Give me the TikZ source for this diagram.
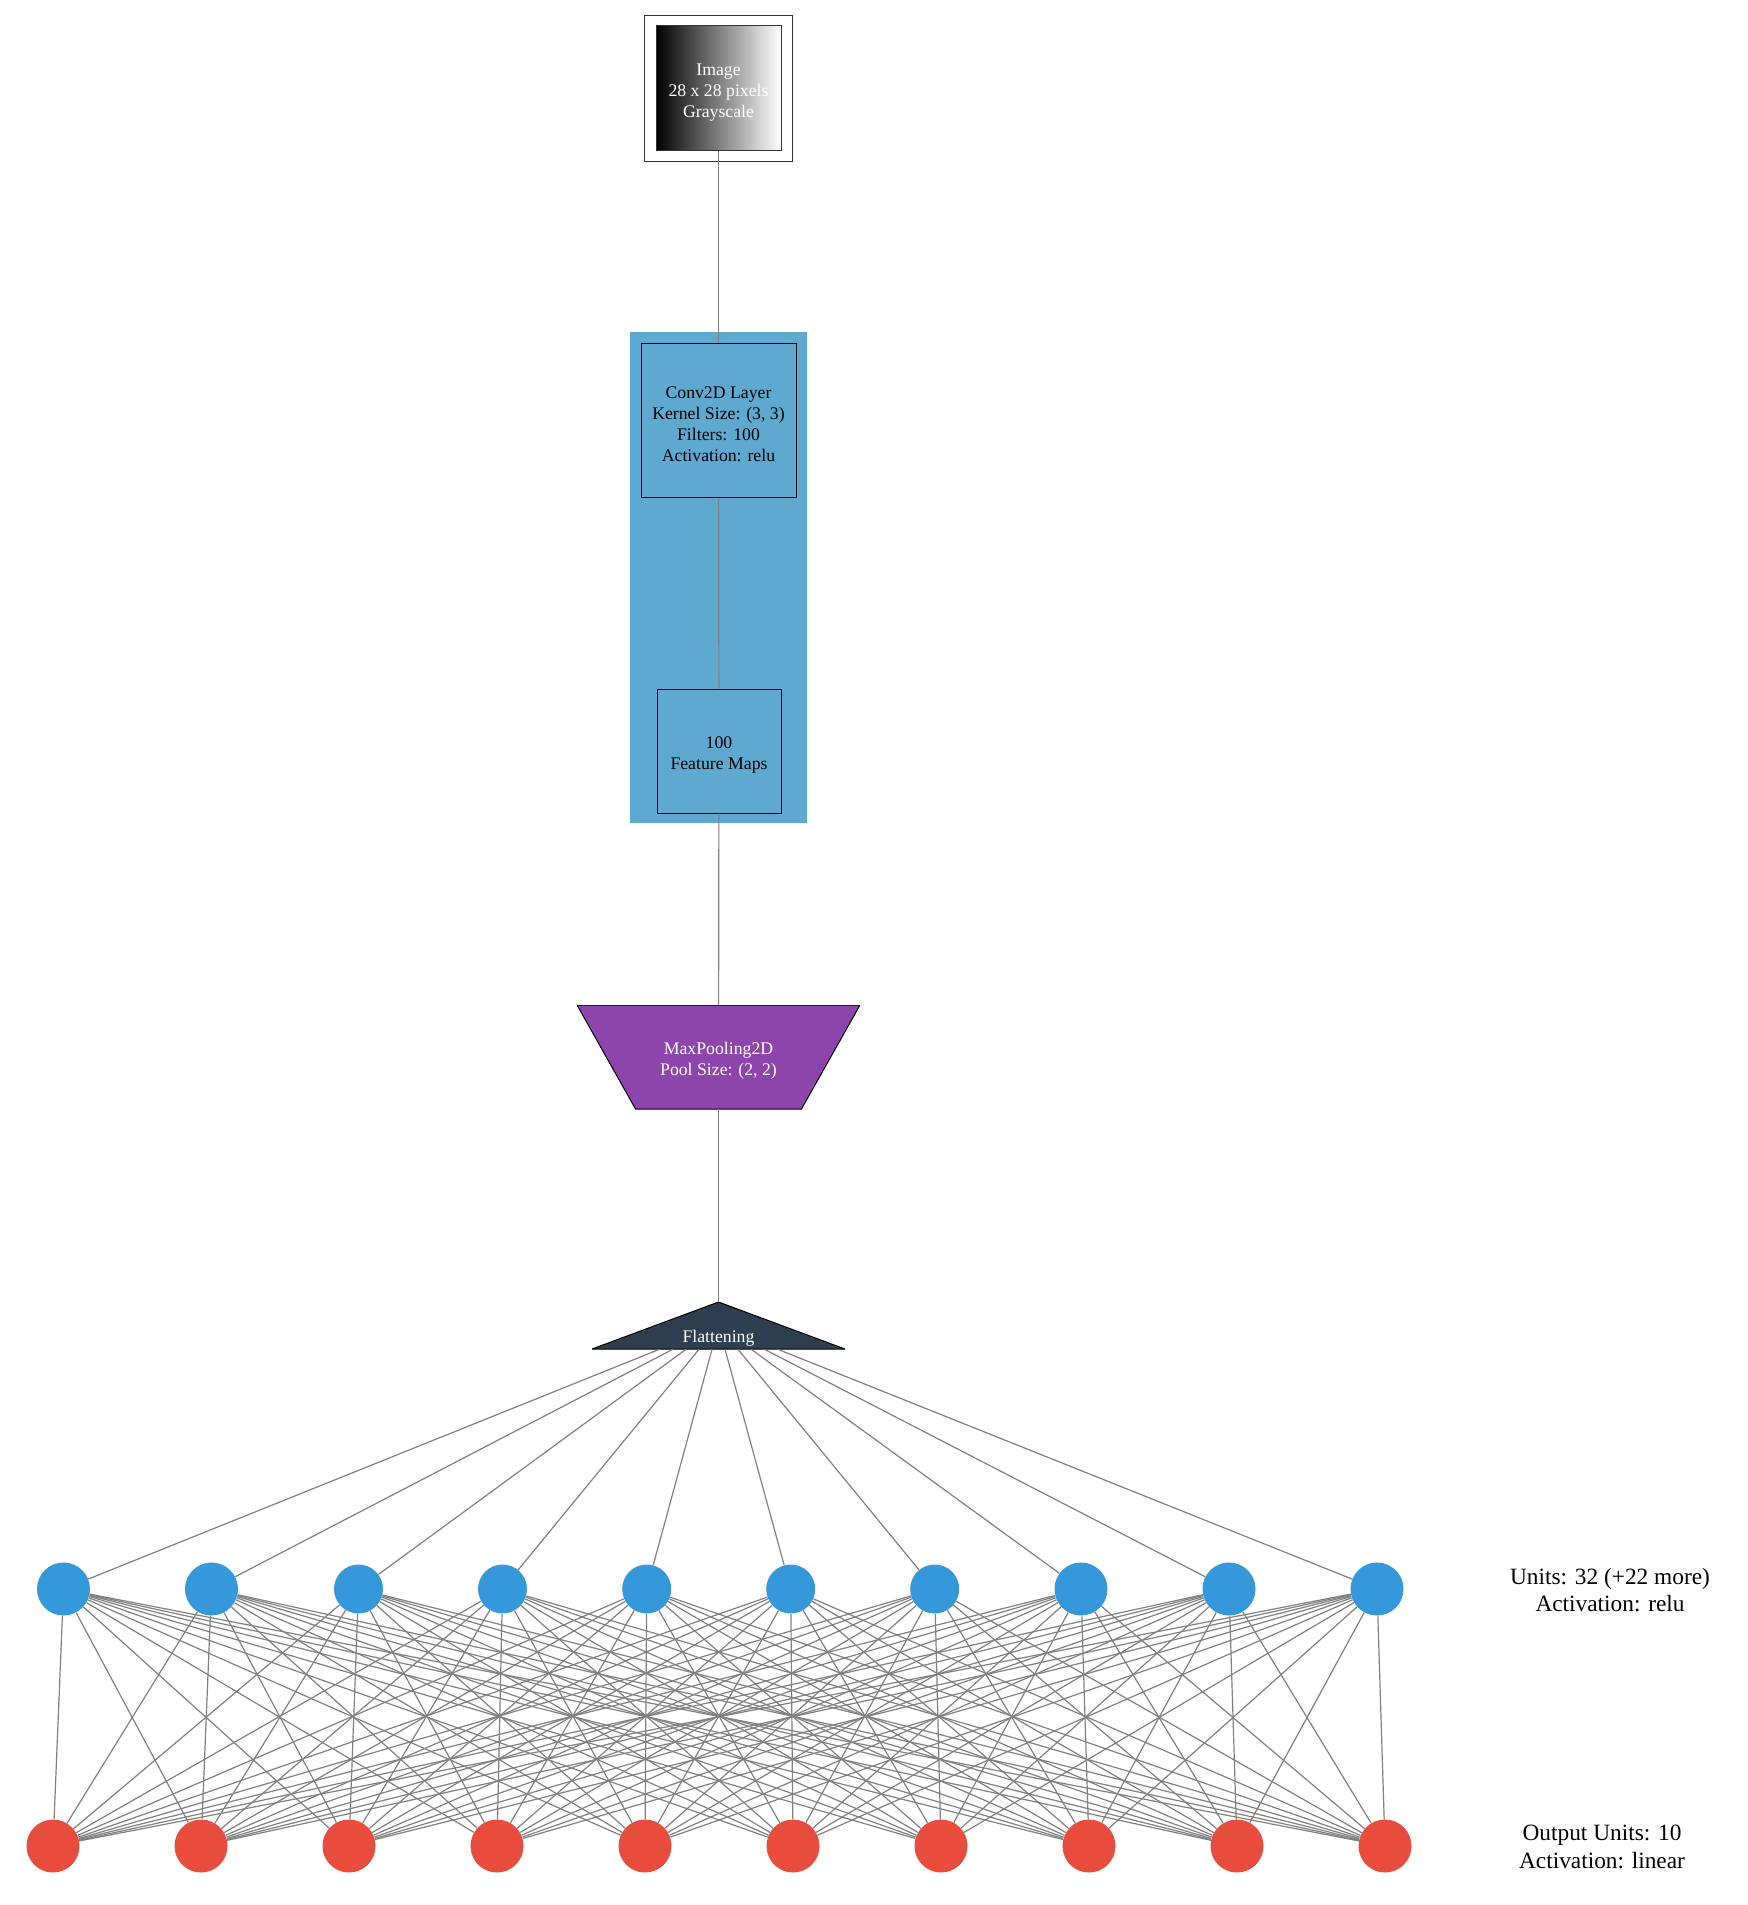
\documentclass[tikz,border=0pt]{standalone}
\usepackage{fontspec}
\setmainfont{Liberation Serif}
\usepackage{xcolor}
\usepackage{tikz}
\usetikzlibrary{positioning}
\definecolor{convblue}{RGB}{94,169,208}
\definecolor{unitblue}{RGB}{52,152,219}
\definecolor{unitred}{RGB}{231,76,60}
\definecolor{poolpurple}{RGB}{142,68,173}
\definecolor{flatnavy}{RGB}{44,62,80}
\definecolor{edgegray}{RGB}{128,128,128}

\begin{document}
\begin{tikzpicture}[x=0.75pt,y=-0.75pt,
                          conn/.style={edgegray, line width=0.9pt},
                          boxtext/.style={align=center, inner sep=0pt, font=\fontsize{13.3}{15.75}\selectfont},
                          sidetext/.style={align=center, font=\fontsize{17.5}{20.5}\selectfont},
                          imgbox/.style={boxtext, text=white, draw=black!80, line width=0.75pt,
                                         left color=black, right color=white, minimum size=93.75pt},
                          convbox/.style={boxtext, draw=black, line width=0.75pt, fill=convblue},
                          poolbox/.style={boxtext, text=white, minimum width=212.25pt, minimum height=78pt,
                                          path picture={\fill[poolpurple, draw=black, line width=0.75pt]
                                            (path picture bounding box.north west) -- (path picture bounding box.north east)
                                            -- ([xshift=-43.9pt]path picture bounding box.south east)
                                            -- ([xshift=43.9pt]path picture bounding box.south west) -- cycle;}},
                          flatbox/.style={boxtext, text=white, minimum width=189.75pt, minimum height=35.25pt,
                                          text height=29pt, text depth=3pt,
                                          path picture={\fill[flatnavy, draw=black, line width=0.75pt]
                                            (path picture bounding box.south west) -- (path picture bounding box.north)
                                            -- (path picture bounding box.south east) -- cycle;}},
                          unit/.style={circle, fill=unitblue, inner sep=0pt},
                          outunit/.style={circle, fill=unitred, inner sep=0pt, minimum size=39.75pt},
                         ]

\useasboundingbox (0,0) rectangle (1748,1905);

\fill[convblue] (630,332) rectangle (807,823);

\node[imgbox, text height=46.6pt] (img) at (718.5,88.5) {Image\\28 x 28 pixels\\Grayscale};
\draw[black!80, line width=0.75pt] ([shift={(-11,10)}]img.south west) rectangle ([shift={(11,-10)}]img.north east);

\node[convbox, minimum width=116.25pt, minimum height=115.5pt, text height=62.3pt] (conv) at (718.5,420) {Conv2D Layer\\Kernel Size: (3, 3)\\Filters: 100\\Activation: relu};
\node[convbox, minimum size=93pt, text height=30.8pt] (feat) at (719,751) {100\\Feature Maps};
\node[poolbox, text height=30.8pt] (pool) at (718.5,1057) {MaxPooling2D\\Pool Size: (2, 2)};
\node[flatbox] (flat) at (718.5,1325.5) {Flattening};

\foreach \x/\d [count=\i] in {63.5/39.75, 211.5/39.75, 358.5/36.75, 502.5/36.75, 646.7/36.75,
                              790.7/36.75, 934.7/36.75, 1081/39.75, 1229/39.75, 1377/39.75}
  \node[unit, minimum size=\d pt] (h\i) at (\x,1589) {};
\foreach \x [count=\i] in {53,201,349,497,645,793,941,1089,1237,1385}
  \node[outunit] (o\i) at (\x,1846) {};

\draw[conn] (img) -- (conv);
\draw[conn] (conv) -- (feat);
\draw[conn] (feat) -- (pool);
\draw[conn] (pool) -- (flat);
\foreach \i in {1,...,10}
  \draw[conn] (flat) -- (h\i);
\foreach \i in {1,...,10}
  \foreach \j in {1,...,10}
    \draw[conn] (h\i) -- (o\j);

\node[sidetext] (hidinfo) at (1610,1590) {Units: 32 (+22 more)\\Activation: relu};
\node[sidetext] (outinfo) at (1602,1847) {Output Units: 10\\Activation: linear};

\end{tikzpicture}
\end{document}
